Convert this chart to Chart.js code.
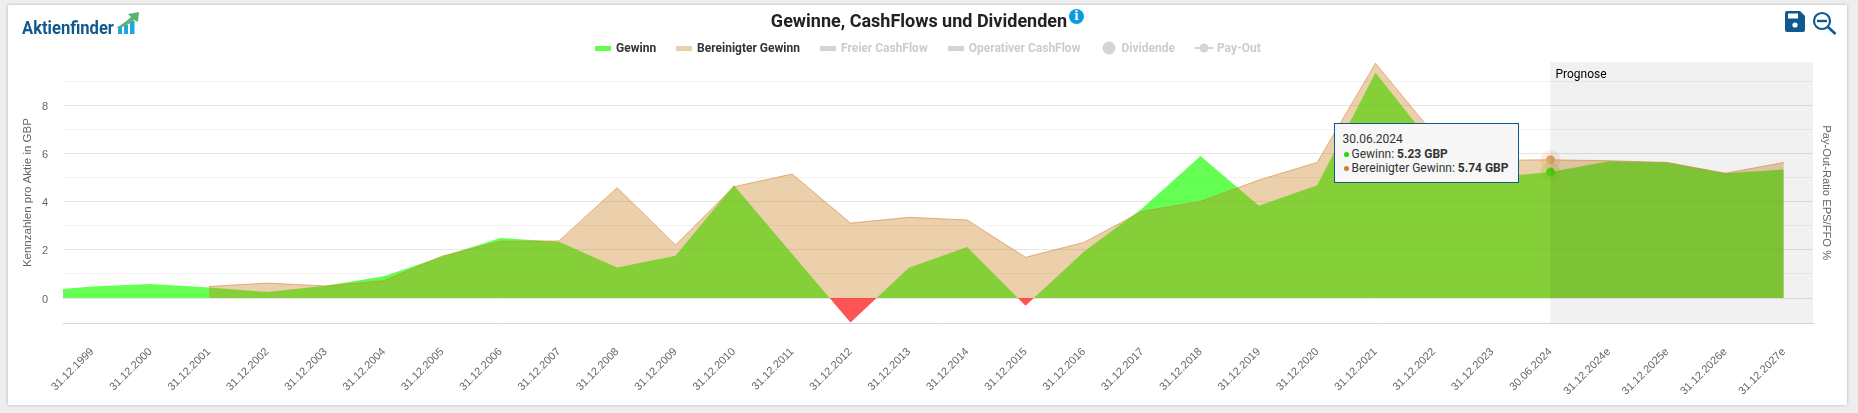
<!DOCTYPE html>
<html>
<head>
<meta charset="utf-8">
<title>Gewinne, CashFlows und Dividenden</title>
<script src="https://cdn.jsdelivr.net/npm/chart.js@4"></script>
<style>
  html, body { margin: 0; padding: 0; width: 1858px; height: 413px; overflow: hidden; background: #eeeeee; }
  #card { position: absolute; left: 8px; top: 5px; width: 1839px; height: 400px; background: #fff; box-shadow: 0 0 3px rgba(0,0,0,0.25); }
  #chart { position: absolute; left: 0; top: 0; }
  #logo { position: absolute; left: 21px; top: 10px; }
  #logoText { position: absolute; left: 22px; top: 17.4px; font: bold 18px "Roboto", sans-serif; color: #10598f; transform: scaleX(0.92); transform-origin: left; }
  #info { position: absolute; left: 1069px; top: 9px; width: 15px; height: 15px; border-radius: 50%; background: #0b9ae0; color: #fff; font: bold 12px/15px "DejaVu Serif", serif; text-align: center; }
  #icons { position: absolute; left: 1785px; top: 11px; }
  #legend { position: absolute; left: 595px; top: 40px; height: 16px; display: flex; align-items: center; font: bold 12px "Roboto", sans-serif; white-space: nowrap; }
  #legend .item { display: flex; align-items: center; margin-right: 20px; }
  #legend .sym { margin-right: 5px; display: block; }
  #tip { position: absolute; box-sizing: border-box; width: 185px; height: 60px; background: #f7f7f7; border: 1px solid #10598f; padding: 8px 0 0 8px; font: 12px/14.5px "Roboto", sans-serif; color: #333; white-space: nowrap; display: none; }
  #tip .dot { display: inline-block; width: 5px; height: 5px; border-radius: 50%; margin: 0 3px 1px 1px; }
</style>
</head>
<body>
<div id="card"></div>
<canvas id="chart" width="1858" height="413"></canvas>
<svg id="logo" width="125" height="30" viewBox="0 0 125 30">
  <rect x="97" y="17" width="4" height="7" fill="#1da7e0"/>
  <rect x="103" y="15" width="4" height="9" fill="#1da7e0"/>
  <rect x="109" y="11" width="4.5" height="13" fill="#1da7e0"/>
  <path d="M95 18 Q105 12 110 7 L107 4 L118 2 L117 12 L113 10 Q106 17 95 18 Z" fill="#5cb270"/>
</svg>
<div id="logoText">Aktienfinder</div>
<div id="info">i</div>
<svg id="icons" width="52" height="24" viewBox="0 0 52 24">
  <path d="M2 0 H15 L20 5 V19 Q20 21 18 21 H2 Q0 21 0 19 V2 Q0 0 2 0 Z" fill="#10598f"/>
  <rect x="3" y="2.5" width="10" height="5" fill="#fff"/>
  <circle cx="10" cy="14" r="2.6" fill="#fff"/>
  <circle cx="37" cy="10" r="8" fill="none" stroke="#10598f" stroke-width="2.2"/>
  <rect x="32" y="8.8" width="10" height="2.4" fill="#10598f"/>
  <line x1="43" y1="16" x2="50.5" y2="23" stroke="#10598f" stroke-width="2.6"/>
</svg>
<div id="legend"></div>
<div id="tip"></div>

<script>
// first label is only there so the area runs in from the left edge, the axis starts at 1999
const categories = ['31.12.1998', '31.12.1999', '31.12.2000', '31.12.2001', '31.12.2002', '31.12.2003', '31.12.2004',
  '31.12.2005', '31.12.2006', '31.12.2007', '31.12.2008', '31.12.2009', '31.12.2010', '31.12.2011', '31.12.2012',
  '31.12.2013', '31.12.2014', '31.12.2015', '31.12.2016', '31.12.2017', '31.12.2018', '31.12.2019', '31.12.2020',
  '31.12.2021', '31.12.2022', '31.12.2023', '30.06.2024', '31.12.2024e', '31.12.2025e', '31.12.2026e', '31.12.2027e'];

const gewinn = [0.27, 0.48, 0.58, 0.44, 0.25, 0.51, 0.90, 1.72, 2.49, 2.34, 1.27, 1.76, 4.68, 1.83, -1.02,
  1.26, 2.12, -0.32, 1.92, 3.72, 5.90, 3.83, 4.68, 9.35, 6.30, 5.00, 5.23, 5.68, 5.63, 5.18, 5.34];

const bereinigt = [null, null, null, 0.48, 0.62, 0.50, 0.72, 1.74, 2.35, 2.37, 4.58, 2.20, 4.62, 5.15, 3.11,
  3.35, 3.24, 1.69, 2.31, 3.60, 4.01, 4.90, 5.63, 9.75, 6.80, 5.72, 5.74, 5.70, 5.63, 5.18, 5.63];

const yTicks = [0, 1, 2, 3, 4, 5, 6, 7, 8, 9];
const prognoseStart = '30.06.2024';
const activeLabel = '30.06.2024';

// gives the grey band over the forecast years
const prognosePlugin = {
  id: 'prognose',
  afterDatasetsDraw(chart) {
    const { ctx, chartArea, scales } = chart;
    const left = scales.x.getPixelForValue(categories.indexOf(prognoseStart));
    ctx.save();
    ctx.fillStyle = 'rgba(0,0,0,0.055)';
    ctx.fillRect(left, chartArea.top, chartArea.right - left, chartArea.bottom - chartArea.top);
    ctx.fillStyle = '#000';
    ctx.font = '12px Roboto';
    ctx.textBaseline = 'middle';
    ctx.fillText('Prognose', left + 5, chartArea.top + 13);
    ctx.restore();
  }
};

function renderTip(context) {
  const tip = document.getElementById('tip');
  const t = context.tooltip;
  if (t.opacity === 0 || !t.dataPoints) {
    tip.style.display = 'none';
    return;
  }
  let html = t.dataPoints[0].label;
  t.dataPoints.forEach((p) => {
    html += '<br><span class="dot" style="background:' + p.dataset.dotColor + '"></span>' + p.dataset.label +
      ': <b>' + p.parsed.y.toFixed(2) + ' GBP</b>';
  });
  tip.innerHTML = html;
  tip.style.display = 'block';
  tip.style.left = (t.caretX - 217) + 'px';
  tip.style.top = '123px';
}

const chart = new Chart(document.getElementById('chart').getContext('2d'), {
  type: 'line',
  data: {
    labels: categories,
    datasets: [
      {
        label: 'Gewinn',
        data: gewinn,
        order: 2,
        borderWidth: 0,
        borderColor: 'rgba(0,255,0,0)',
        backgroundColor: 'rgba(27,255,0,0.68)',
        fill: { target: 'origin', above: 'rgba(27,255,0,0.68)', below: 'rgba(255,0,0,0.67)' },
        tension: 0,
        pointRadius: 0,
        pointHoverRadius: 4.5,
        pointHoverBorderWidth: 11,
        // the tan area is painted over this dot, so it starts out brighter
        pointBackgroundColor: '#10ff20',
        pointHoverBackgroundColor: '#10ff20',
        pointHoverBorderColor: 'rgba(85,220,20,0.2)',
        dotColor: '#22dd00',
        legendColor: '#63ff50'
      },
      {
        label: 'Bereinigter Gewinn',
        data: bereinigt,
        order: 1,
        borderWidth: 1,
        borderColor: 'rgba(205,127,50,0.55)',
        backgroundColor: 'rgba(200,115,10,0.34)',
        fill: 'origin',
        tension: 0,
        pointRadius: 0,
        pointHoverRadius: 4.5,
        pointHoverBorderWidth: 11,
        pointBackgroundColor: '#e0ac6a',
        pointHoverBackgroundColor: '#e0ac6a',
        pointHoverBorderColor: 'rgba(205,140,60,0.13)',
        dotColor: '#cd7f32',
        legendColor: '#ebcfa9'
      },
      { label: 'Freier CashFlow', data: [], hidden: true },
      { label: 'Operativer CashFlow', data: [], hidden: true },
      { label: 'Dividende', data: [], hidden: true, legendSymbol: 'circle' },
      { label: 'Pay-Out', data: [], hidden: true, legendSymbol: 'line' }
    ]
  },
  options: {
    responsive: false,
    animation: false,
    devicePixelRatio: 1,
    layout: { autoPadding: false, padding: { right: 20 } },
    interaction: { mode: 'index', intersect: false },
    font: { family: '"Liberation Sans", Arial, sans-serif', size: 12 },
    scales: {
      x: {
        type: 'category',
        min: categories[1],
        offset: true,
        grid: { display: false },
        border: { display: true, color: '#ccd6eb' },
        ticks: { autoSkip: false, minRotation: 45, maxRotation: 45, color: '#666', padding: 14, font: { size: 11 } },
        afterFit: (s) => { s.height = 89.7; }
      },
      y: {
        min: -1.05,
        max: 9.8,
        afterBuildTicks: (s) => { s.ticks = yTicks.map((v) => ({ value: v })); },
        afterFit: (s) => { s.width = 63; },
        grid: {
          color: (c) => (c.tick.value % 2 === 0 ? '#e6e6e6' : '#f2f2f2'),
          drawTicks: false,
          lineWidth: 1
        },
        border: { display: false },
        ticks: {
          color: '#666',
          padding: 15,
          labelOffset: 1.5,
          font: { size: 11 },
          callback: (v) => (v % 2 === 0 ? v : '')
        },
        title: {
          display: true,
          text: 'Kennzahlen pro Aktie in GBP',
          color: '#666',
          font: { size: 11.5 },
          padding: { top: 20.5, bottom: 0 }
        }
      },
      y1: {
        position: 'right',
        min: 0,
        max: 100,
        afterFit: (s) => { s.width = 25; },
        grid: { display: false },
        border: { display: false },
        ticks: { display: false },
        title: {
          display: true,
          text: 'Pay-Out-Ratio EPS/FFO %',
          color: '#666',
          font: { size: 11.2 },
          padding: { top: 4.8, bottom: 0 }
        }
      }
    },
    plugins: {
      legend: { display: false },
      title: {
        display: true,
        text: 'Gewinne, CashFlows und Dividenden',
        color: '#222',
        font: { family: 'Roboto', size: 18, weight: 'bold' },
        padding: { top: 12, bottom: 28.4 }
      },
      tooltip: {
        enabled: false,
        external: renderTip,
        filter: (item) => item.parsed.y !== null
      }
    }
  },
  plugins: [prognosePlugin]
});

// legend is plain html so the entries can sit exactly where they should
const legendBox = document.getElementById('legend');
chart.data.datasets.forEach((ds) => {
  const item = document.createElement('div');
  item.className = 'item';
  const on = !ds.hidden;
  const col = on ? ds.legendColor : '#d4d4d4';
  let sym = '<svg class="sym" width="16" height="5"><rect width="16" height="5" fill="' + col + '"/></svg>';
  if (ds.legendSymbol === 'circle') {
    sym = '<svg class="sym" width="14" height="14" style="margin-left:2px"><circle cx="7" cy="7" r="6.5" fill="' + col + '"/></svg>';
  } else if (ds.legendSymbol === 'line') {
    sym = '<svg class="sym" width="18" height="12" style="margin-right:4px"><line x1="0" y1="6" x2="18" y2="6" stroke="' + col + '" stroke-width="2"/><circle cx="9" cy="6" r="4.5" fill="' + col + '"/></svg>';
  }
  item.innerHTML = sym + '<span style="color:' + (on ? '#333' : '#cccccc') + '">' + ds.label + '</span>';
  legendBox.appendChild(item);
});

// the reference is photographed with the mid 2024 point hovered
const hoverIndex = categories.indexOf(activeLabel);
const activePts = [{ datasetIndex: 0, index: hoverIndex }, { datasetIndex: 1, index: hoverIndex }];
chart.setActiveElements(activePts);
chart.tooltip.setActiveElements(activePts, { x: 0, y: 0 });
chart.update();
</script>
</body>
</html>
